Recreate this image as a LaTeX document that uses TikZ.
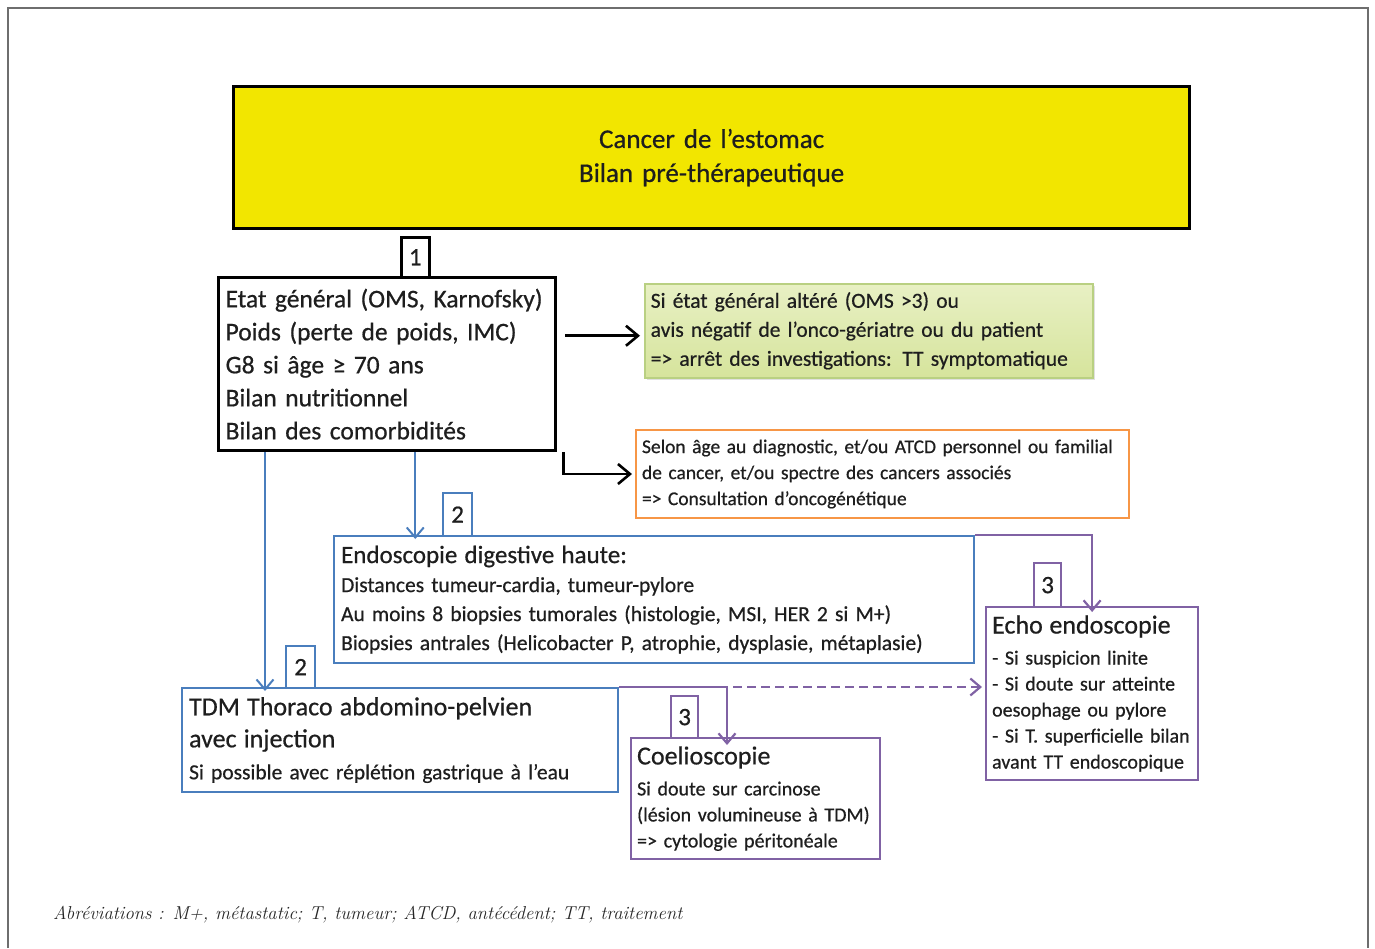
\documentclass[tikz,border=0pt]{standalone}
\usepackage{fontspec}
\newfontfamily\cali[WordSpace=0.8,FakeBold=0.6]{Carlito}
\usetikzlibrary{arrows.meta,calc}
\definecolor{myblue}{RGB}{74,126,189}
\definecolor{mypurple}{RGB}{128,98,164}
\definecolor{myorange}{RGB}{247,150,70}
\definecolor{mygreenb}{RGB}{185,208,130}
\definecolor{mygreent}{RGB}{232,240,196}
\definecolor{mygreenl}{RGB}{214,228,156}
\definecolor{myyellow}{RGB}{242,230,0}
\definecolor{frame}{RGB}{110,110,110}
\definecolor{txt}{RGB}{30,30,30}
\tikzset{
  bx/.style={anchor=north west, inner sep=0pt, inner xsep=7pt, align=left, font=\cali, text=txt},
  lab/.style={anchor=north west, inner sep=0pt, font=\cali\fontsize{25}{25}\selectfont, fill=white, text=txt},
  tip/.style={-{Straight Barb[length=10pt,width=17pt]}},
  tipb/.style={-{Straight Barb[length=12pt,width=20pt]}},
}
\begin{document}
\begin{tikzpicture}[x=1pt,y=-1pt]
\useasboundingbox (0,0) rectangle (1375,948);
\draw[frame, line width=1.3pt] (8,948) -- (8,8) -- (1368,8) -- (1368,948);

% boxes
\fill[black!35] (235,88) rectangle (1191,230);
\node[bx, draw=black, line width=3.2pt, fill=myyellow, minimum width=956, minimum height=142, text width=942, align=center,
  font=\cali\fontsize{27}{34}\selectfont] (title) at (232,85) {Cancer de l’estomac\\Bilan pré-thérapeutique};

\node[bx, draw=black, line width=3.2pt, fill=white, minimum width=337, minimum height=173, text width=323,
  font=\cali\fontsize{25.5}{33}\selectfont] (gen) at (217,276)
  {Etat général (OMS, Karnofsky)\\Poids (perte de poids, IMC)\\G8 si âge ≥ 70 ans\\Bilan nutritionnel\\Bilan des comorbidités};

\fill[black!12] (647,286) rectangle (1095,380);
\node[bx, draw=mygreenb, line width=1.5pt, top color=mygreent, bottom color=mygreenl, inner xsep=6pt,
  minimum width=448, minimum height=94, text width=436, font=\cali\fontsize{21.5}{29}\selectfont] (green) at (644,283)
  {Si état général altéré (OMS >3) ou\\avis négatif de l’onco-gériatre ou du patient\\=> arrêt des investigations: TT symptomatique};

\node[bx, draw=myorange, line width=2pt, inner xsep=6pt, minimum width=493, minimum height=88, text width=481,
  font=\cali\fontsize{19.5}{26}\selectfont] (orange) at (635,429)
  {Selon âge au diagnostic, et/ou ATCD personnel ou familial\\de cancer, et/ou spectre des cancers associés\\=> Consultation d’oncogénétique};

\node[bx, draw=myblue, line width=2.2pt, minimum width=640, minimum height=127, text width=626,
  font=\cali\fontsize{21.5}{29}\selectfont] (endo) at (333,535)
  {{\fontsize{25}{29}\selectfont Endoscopie digestive haute:}\\Distances tumeur-cardia, tumeur-pylore\\Au moins 8 biopsies tumorales (histologie, MSI, HER 2 si M+)\\Biopsies antrales (Helicobacter P, atrophie, dysplasie, métaplasie)};

\node[bx, draw=myblue, line width=2.2pt, minimum width=436, minimum height=104, text width=422,
  font=\cali\fontsize{21.5}{32}\selectfont] (tdm) at (181,687)
  {{\fontsize{26}{32}\selectfont TDM Thoraco abdomino-pelvien}\\{\fontsize{26}{32}\selectfont avec injection}\\Si possible avec réplétion gastrique à l’eau};

\node[bx, draw=mypurple, line width=2.2pt, inner xsep=6pt, minimum width=249, minimum height=121, text width=237,
  font=\cali\fontsize{20}{26}\selectfont] (coelio) at (630,737)
  {{\fontsize{26}{26}\selectfont Coelioscopie}\\[5pt]Si doute sur carcinose\\(lésion volumineuse à TDM)\\=> cytologie péritonéale};

\node[bx, draw=mypurple, line width=2.2pt, inner xsep=6pt, minimum width=212, minimum height=173, text width=200,
  font=\cali\fontsize{20}{26}\selectfont] (echo) at (985,606)
  {{\fontsize{26}{26}\selectfont Echo endoscopie}\\[5pt]- Si suspicion linite\\- Si doute sur atteinte\\oesophage ou pylore\\- Si T. superficielle bilan\\avant TT endoscopique};

% number labels
\node[lab, draw=black, line width=2.5pt, minimum width=28, minimum height=40] (l1) at (400,236) {1};
\node[lab, draw=myblue, line width=2.2pt, minimum width=29, minimum height=43] (l2a) at (442,492) {2};
\node[lab, draw=myblue, line width=2.2pt, minimum width=29, minimum height=42] (l2b) at (285,645) {2};
\node[lab, draw=mypurple, line width=2.2pt, minimum width=27, minimum height=42] (l3a) at (670,695) {3};
\node[lab, draw=mypurple, line width=2.2pt, minimum width=27, minimum height=44] (l3b) at (1033,562) {3};

% connectors
\draw[tipb, line width=2.6pt] ([shift={(8,5)}]gen.east |- green.west) -- ([shift={(-4,5)}]green.west);
\draw[tipb, line width=2.6pt] ([xshift=6]gen.south east) |- ([xshift=-3]orange.west);
\draw[tip, myblue, line width=2pt] (l1.center |- gen.south) -- ([yshift=-4]l1.center |- endo.north);
\draw[tip, myblue, line width=2pt] ([xshift=48]gen.south west) -- ([xshift=48,yshift=-4]gen.south west |- tdm.north);
\draw[tip, mypurple, line width=2.2pt] (tdm.north east) -| ([xshift=97,yshift=-8]coelio.north west);
\draw[tip, mypurple, line width=2.2pt, dash pattern=on 9pt off 5pt] ([xshift=103]coelio.north west |- tdm.north east) -- ([xshift=-3]echo.west |- tdm.north east);
\draw[tip, mypurple, line width=2.2pt] (endo.north east) -| ([yshift=-6]echo.north);

% footnote
\node[anchor=west, inner sep=0pt, text=black!85, font=\itshape\fontsize{18.7}{22}\selectfont] (foot) at (53,915)
  {Abréviations : M+, métastatic; T, tumeur; ATCD, antécédent; TT, traitement};
\end{tikzpicture}
\end{document}
